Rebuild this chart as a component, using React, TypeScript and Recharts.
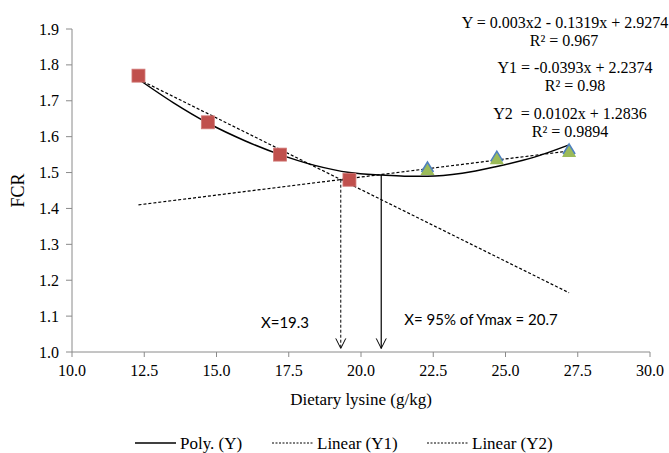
import React from 'react';
import { ComposedChart, Line, Scatter, XAxis, YAxis } from 'recharts';

// observed FCR values (squares = low lysine diets, triangles = high lysine diets)
const lowLysine = [
  { x: 12.3, y: 1.77 },
  { x: 14.7, y: 1.64 },
  { x: 17.2, y: 1.55 },
  { x: 19.6, y: 1.48 },
];
const highLysine = [
  { x: 22.3, y: 1.51 },
  { x: 24.7, y: 1.54 },
  { x: 27.2, y: 1.56 },
];

// trend lines
const polyY = [
  { x: 12.3, y: 1.76 },
  { x: 13.5, y: 1.695 },
  { x: 14.7, y: 1.638 },
  { x: 16.0, y: 1.588 },
  { x: 17.2, y: 1.55 },
  { x: 18.4, y: 1.52 },
  { x: 19.6, y: 1.5 },
  { x: 20.7, y: 1.493 },
  { x: 21.5, y: 1.49 },
  { x: 22.3, y: 1.49 },
  { x: 23.5, y: 1.498 },
  { x: 24.7, y: 1.517 },
  { x: 26.0, y: 1.543 },
  { x: 27.2, y: 1.577 },
];
const linearY1 = [
  { x: 12.3, y: 1.76 },
  { x: 27.2, y: 1.165 },
];
const linearY2 = [
  { x: 12.3, y: 1.41 },
  { x: 27.2, y: 1.56 },
];

// drop arrows to the x axis
const arrowY1Y2 = [
  { x: 19.3, y: 1.48 },
  { x: 19.3, y: 1.01 },
];
const arrowPoly = [
  { x: 20.7, y: 1.494 },
  { x: 20.7, y: 1.01 },
];

const xTicks = [10, 12.5, 15, 17.5, 20, 22.5, 25, 27.5, 30];
const yTicks = [1.0, 1.1, 1.2, 1.3, 1.4, 1.5, 1.6, 1.7, 1.8, 1.9];

const equations = [
  { text: 'Y = 0.003x2 - 0.1319x + 2.9274', cx: 565, y: 28 },
  { text: 'R² = 0.967', cx: 564, y: 46 },
  { text: 'Y1 = -0.0393x + 2.2374', cx: 575, y: 73 },
  { text: 'R² = 0.98', cx: 575, y: 91 },
  { text: 'Y2 \u00a0= 0.0102x + 1.2836', cx: 570, y: 119 },
  { text: 'R² = 0.9894', cx: 570, y: 137 },
];

const serif = 'Liberation Serif, DejaVu Serif, serif';
const sans = 'Lato, Liberation Sans, sans-serif';
const axisGray = '#8a8a8a';

const XTick = (props: any) => {
  const { x, y, payload } = props;
  return (
    <text x={x} y={y + 17} textAnchor="middle" fontFamily={serif} fontSize={16} fill="#000">
      {Number(payload.value).toFixed(1)}
    </text>
  );
};

const YTick = (props: any) => {
  const { x, y, payload } = props;
  return (
    <text x={x - 5} y={y + 5.5} textAnchor="end" fontFamily={serif} fontSize={16} fill="#000">
      {Number(payload.value).toFixed(1)}
    </text>
  );
};

const XTitle = (props: any) => {
  const { viewBox } = props;
  return (
    <text x={viewBox.x + viewBox.width / 2} y={405} textAnchor="middle" fontFamily={serif} fontSize={17} fill="#000">
      Dietary lysine (g/kg)
    </text>
  );
};

const YTitle = (props: any) => {
  const { viewBox } = props;
  const cy = viewBox.y + viewBox.height / 2;
  return (
    <text x={24} y={cy} transform={`rotate(-90 24 ${cy})`} textAnchor="middle" fontFamily={serif} fontSize={18} fill="#000">
      FCR
    </text>
  );
};

const Square = (props: any) => {
  const { cx, cy } = props;
  return <rect x={cx - 6.5} y={cy - 6.5} width={13} height={13} fill="#C0504D" stroke="#d27a78" strokeWidth={0.8} />;
};

const Triangle = (props: any) => {
  const { cx, cy } = props;
  return (
    <g>
      <polygon points={`${cx},${cy - 7} ${cx - 7},${cy + 6} ${cx + 7},${cy + 6}`} fill="#9BBB59" />
      <polyline points={`${cx - 6},${cy + 3} ${cx},${cy - 7} ${cx + 6},${cy + 3}`} fill="none" stroke="#4F81BD" strokeWidth={1.6} />
    </g>
  );
};

const arrowDot = (props: any) => {
  const { cx, cy, index } = props;
  if (index !== 1) return <g key={`n-${index}`} />;
  return (
    <path
      key={`a-${index}`}
      d={`M${cx - 5},${cy - 10} L${cx},${cy} L${cx + 5},${cy - 10}`}
      fill="none"
      stroke="#000"
      strokeWidth={1}
    />
  );
};

export default function App() {
  return (
    <div style={{ position: 'absolute', left: 0, top: 0, width: 669, height: 453, background: '#fff', fontFamily: serif }}>
      <ComposedChart width={669} height={453} margin={{ top: 29, right: 19, bottom: 49, left: 20 }}>
        <XAxis
          type="number"
          dataKey="x"
          domain={[10, 30]}
          ticks={xTicks}
          allowDataOverflow
          height={52}
          tickSize={5}
          axisLine={{ stroke: axisGray }}
          tickLine={{ stroke: axisGray }}
          tick={<XTick />}
          label={<XTitle />}
        />
        <YAxis
          type="number"
          dataKey="y"
          domain={[1, 1.9]}
          ticks={yTicks}
          allowDataOverflow
          width={52}
          tickSize={6}
          axisLine={{ stroke: axisGray }}
          tickLine={{ stroke: axisGray }}
          tick={<YTick />}
          label={<YTitle />}
        />
        <Scatter data={lowLysine} shape={Square} isAnimationActive={false} />
        <Scatter data={highLysine} shape={Triangle} isAnimationActive={false} />
        <Line data={polyY} dataKey="y" type="monotone" stroke="#000" strokeWidth={1.5} dot={false} activeDot={false} isAnimationActive={false} />
        <Line data={linearY1} dataKey="y" type="linear" stroke="#000" strokeWidth={1.2} strokeDasharray="3 2" dot={false} activeDot={false} isAnimationActive={false} />
        <Line data={linearY2} dataKey="y" type="linear" stroke="#000" strokeWidth={1.2} strokeDasharray="3 2" dot={false} activeDot={false} isAnimationActive={false} />
        <Line data={arrowY1Y2} dataKey="y" type="linear" stroke="#000" strokeWidth={1} strokeDasharray="3 2" dot={arrowDot} activeDot={false} isAnimationActive={false} />
        <Line data={arrowPoly} dataKey="y" type="linear" stroke="#000" strokeWidth={1.2} dot={arrowDot} activeDot={false} isAnimationActive={false} />
      </ComposedChart>
      <svg width={669} height={453} style={{ position: 'absolute', left: 0, top: 0, pointerEvents: 'none' }}>
        {equations.map((e) => (
          <text key={e.text + e.y} x={e.cx} y={e.y} textAnchor="middle" fontFamily={serif} fontSize={16} fill="#000">
            {e.text}
          </text>
        ))}
        <text x={285} y={328} textAnchor="middle" fontFamily={sans} fontSize={15} fill="#000">X=19.3</text>
        <text x={481} y={325} textAnchor="middle" fontFamily={sans} fontSize={15} fill="#000">X= 95% of Ymax = 20.7</text>
        {/* legend */}
        <line x1={135} y1={443} x2={176} y2={443} stroke="#000" strokeWidth={1.5} />
        <text x={180} y={449} fontFamily={serif} fontSize={17} fill="#000">Poly. (Y)</text>
        <line x1={272} y1={443} x2={313} y2={443} stroke="#000" strokeWidth={1} strokeDasharray="2 1.5" />
        <text x={317} y={449} fontFamily={serif} fontSize={17} fill="#000">Linear (Y1)</text>
        <line x1={427} y1={443} x2={468} y2={443} stroke="#000" strokeWidth={1} strokeDasharray="2 1.5" />
        <text x={472} y={449} fontFamily={serif} fontSize={17} fill="#000">Linear (Y2)</text>
      </svg>
    </div>
  );
}
